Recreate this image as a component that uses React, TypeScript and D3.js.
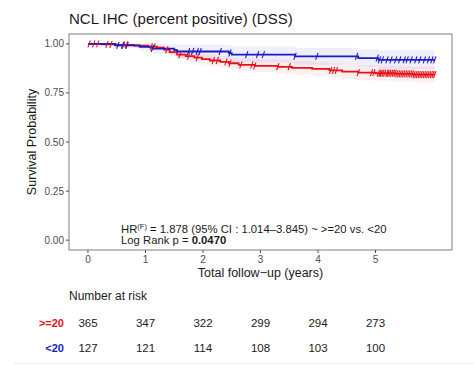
import React from 'react';
import * as d3 from 'd3';

// Kaplan-Meier steps, ">=20" group (red)
const highTimes = [0, 0.25, 0.5, 0.8, 1.05, 1.2, 1.32, 1.42, 1.55, 1.7, 1.85, 1.98, 2.12, 2.3, 2.45, 2.62, 2.9, 3.3, 3.55, 3.9, 4.2, 4.42, 4.7, 5.0, 5.35, 5.65, 6.03];
const highSurv = [1, 0.997, 0.994, 0.991, 0.986, 0.98, 0.97, 0.958, 0.945, 0.937, 0.93, 0.922, 0.915, 0.908, 0.901, 0.893, 0.888, 0.883, 0.878, 0.872, 0.865, 0.858, 0.853, 0.85, 0.847, 0.843, 0.843];
const highLower = [1, 0.991, 0.986, 0.981, 0.974, 0.966, 0.953, 0.938, 0.922, 0.912, 0.904, 0.894, 0.886, 0.878, 0.87, 0.861, 0.855, 0.849, 0.844, 0.837, 0.829, 0.821, 0.815, 0.812, 0.808, 0.803, 0.803];
const highUpper = [1, 1, 1, 1, 0.998, 0.994, 0.987, 0.978, 0.968, 0.962, 0.956, 0.95, 0.944, 0.938, 0.932, 0.925, 0.921, 0.917, 0.912, 0.907, 0.901, 0.895, 0.891, 0.888, 0.886, 0.883, 0.883];
const highCensor = [0.02, 0.1, 0.17, 0.33, 0.4, 0.62, 0.67, 1.1, 1.15, 1.37, 1.6, 1.75, 1.9, 2.18, 2.25, 2.4, 2.47, 2.66, 2.85, 2.9, 3.3, 3.5, 4.22, 4.27, 4.32, 4.7, 4.93, 4.97,
  5.05, 5.08, 5.1, 5.13, 5.16, 5.2, 5.22, 5.25, 5.28, 5.31, 5.34, 5.37, 5.4, 5.43, 5.46, 5.49, 5.52, 5.55, 5.58, 5.61, 5.64, 5.67, 5.7, 5.73, 5.76, 5.79, 5.82, 5.85, 5.88, 5.91, 5.94, 5.97, 6.0, 6.03];

// "<20" group (blue)
const lowTimes = [0, 0.47, 0.9, 1.12, 1.5, 1.55, 2.45, 2.5, 3.6, 4.7, 5.05, 6.03];
const lowSurv = [1, 0.992, 0.984, 0.976, 0.968, 0.961, 0.953, 0.945, 0.936, 0.927, 0.918, 0.918];
const lowLower = [1, 0.977, 0.962, 0.949, 0.937, 0.927, 0.916, 0.905, 0.894, 0.883, 0.872, 0.872];
const lowUpper = [1, 1, 1, 1, 0.999, 0.995, 0.991, 0.986, 0.98, 0.974, 0.967, 0.967];
const lowCensor = [0.52, 0.6, 0.68, 1.12, 1.75, 1.82, 1.9, 1.95, 2.3, 2.47, 2.76, 2.95, 3.05, 3.6, 3.98, 4.67,
  5.03, 5.07, 5.12, 5.2, 5.27, 5.35, 5.42, 5.5, 5.55, 5.62, 5.7, 5.77, 5.85, 5.92, 5.98, 6.03];

const yearTicks = [0, 1, 2, 3, 4, 5];
const survTicks = [0, 0.25, 0.5, 0.75, 1];
const riskHigh = [365, 347, 322, 299, 294, 273];
const riskLow = [127, 121, 114, 108, 103, 100];

const RED = '#e5101a';
const BLUE = '#1c1cc2';
const FONT = '"Liberation Sans", Arial, Helvetica, sans-serif';

const App: React.FC = () => {
  const left = 69, right = 452, top = 34, bottom = 250;
  const x = d3.scaleLinear().domain([-0.33, 6.33]).range([left, right]);
  const y = d3.scaleLinear().domain([-0.05, 1.05]).range([bottom, top]);

  const line = d3.line<[number, number]>()
    .x(d => x(d[0])).y(d => y(d[1]))
    .curve(d3.curveStepAfter);
  const area = d3.area<[number, number, number]>()
    .x(d => x(d[0])).y0(d => y(d[1])).y1(d => y(d[2]))
    .curve(d3.curveStepAfter);

  const groups = [
    { times: highTimes, surv: highSurv, lo: highLower, hi: highUpper, cens: highCensor, color: RED },
    { times: lowTimes, surv: lowSurv, lo: lowLower, hi: lowUpper, cens: lowCensor, color: BLUE },
  ];

  const stepAt = (times: number[], surv: number[], t: number) => {
    const i = d3.bisectRight(times, t) - 1;
    return surv[Math.max(0, i)];
  };

  return (
    <svg width={474} height={365} style={{ position: 'absolute', left: 0, top: 0, background: '#fff' }} fontFamily={FONT}>
      <text x={69} y={24} fontSize={15} fill="#1a1a1a">NCL IHC (percent positive) (DSS)</text>

      {/* bands */}
      {groups.map((g, k) => (
        <path key={'b' + k}
          d={area(g.times.map((t, i) => [t, g.lo[i], g.hi[i]] as [number, number, number])) || ''}
          fill={g.color} fillOpacity={0.07} stroke="none" />
      ))}
      {/* curves */}
      {groups.map((g, k) => (
        <path key={'l' + k}
          d={line(g.times.map((t, i) => [t, g.surv[i]] as [number, number])) || ''}
          fill="none" stroke={g.color} strokeWidth={1.8} />
      ))}
      {/* censor marks */}
      {groups.map((g, k) => (
        <g key={'c' + k} stroke={g.color} strokeWidth={1.1}>
          {g.cens.map((t, i) => {
            const cx = x(t), cy = y(stepAt(g.times, g.surv, t));
            return <line key={i} x1={cx - 1.2} x2={cx + 1.2} y1={cy + 3.5} y2={cy - 3.5} />;
          })}
        </g>
      ))}

      <rect x={left} y={top} width={right - left} height={bottom - top} fill="none" stroke="#7f7f7f" strokeWidth={1} />

      {/* y axis */}
      {survTicks.map(s => (
        <g key={'y' + s}>
          <line x1={left - 3} x2={left} y1={y(s)} y2={y(s)} stroke="#4d4d4d" />
          <text x={left - 5} y={y(s)} dy="0.35em" textAnchor="end" fontSize={10} fill="#4d4d4d">{s.toFixed(2)}</text>
        </g>
      ))}
      <text transform={`translate(36,${(top + bottom) / 2}) rotate(-90)`} textAnchor="middle" fontSize={12.5} fill="#1a1a1a">Survival Probability</text>

      {/* x axis */}
      {yearTicks.map(t => (
        <g key={'x' + t}>
          <line x1={x(t)} x2={x(t)} y1={bottom} y2={bottom + 3} stroke="#4d4d4d" />
          <text x={x(t)} y={263} textAnchor="middle" fontSize={10} fill="#4d4d4d">{t}</text>
        </g>
      ))}
      <text x={(left + right) / 2} y={276.5} textAnchor="middle" fontSize={12.5} fill="#1a1a1a">Total follow−up (years)</text>

      {/* annotation */}
      <text x={121} y={233} fontSize={11.3} fill="#1a1a1a">
        HR<tspan dy={-4} fontSize={7.5}>(F)</tspan><tspan dy={4}> = 1.878 (95% CI :  1.014–3.845) ~ &gt;=20 vs. &lt;20</tspan>
      </text>
      <text x={121} y={244} fontSize={11.3} fill="#1a1a1a">
        Log Rank p = <tspan fontWeight="bold">0.0470</tspan>
      </text>

      {/* risk table */}
      <text x={69} y={300} fontSize={12} fill="#1a1a1a">Number at risk</text>
      <text x={64} y={327} textAnchor="end" fontSize={11} fontWeight="bold" fill={RED}>&gt;=20</text>
      <text x={64} y={352} textAnchor="end" fontSize={11} fontWeight="bold" fill={BLUE}>&lt;20</text>
      {yearTicks.map((t, i) => (
        <g key={'r' + t}>
          <text x={x(t)} y={327} textAnchor="middle" fontSize={11.5} fill="#1a1a1a">{riskHigh[i]}</text>
          <text x={x(t)} y={352} textAnchor="middle" fontSize={11.5} fill="#1a1a1a">{riskLow[i]}</text>
        </g>
      ))}
      <line x1={13} x2={474} y1={363.5} y2={363.5} stroke="#ededed" />
    </svg>
  );
};

export default App;
